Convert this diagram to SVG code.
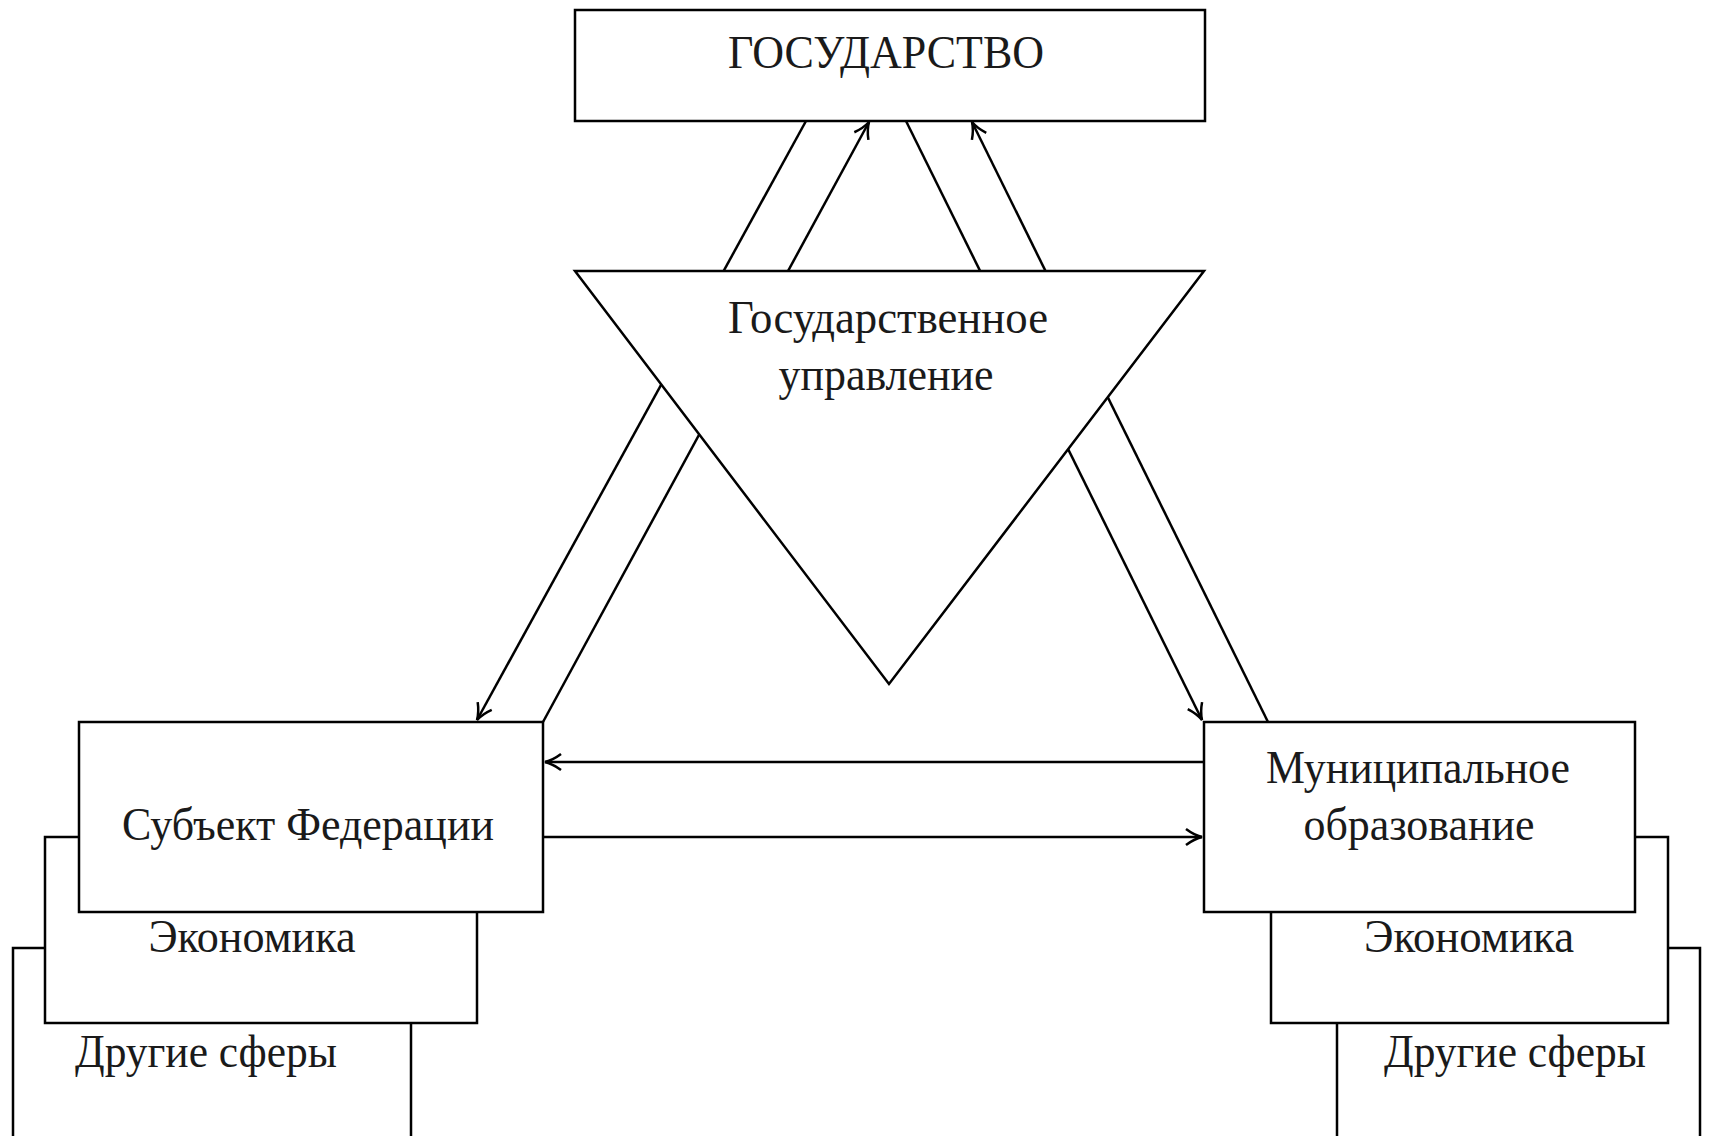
<svg xmlns="http://www.w3.org/2000/svg" width="1710" height="1136" viewBox="0 0 1710 1136">
<style>
.box{fill:#fff;stroke:#000;stroke-width:2.5}
.ln{fill:none;stroke:#000;stroke-width:2.5}
.t{font-family:"Liberation Serif","Times New Roman",serif;font-size:46px;fill:#1a1a1a;text-anchor:middle}
</style>
<defs>
<marker id="ar" markerUnits="userSpaceOnUse" markerWidth="24" markerHeight="24" viewBox="0 0 24 24" refX="22" refY="12" orient="auto">
<path d="M6,4 Q14,10 22,12 Q14,14 6,20" fill="none" stroke="#000" stroke-width="2.5"/>
</marker>
</defs>
<rect width="1710" height="1136" fill="#fff"/>
<g id="left-other"><rect class="box" x="13" y="948" width="398" height="200"/><text class="t" x="206" y="1067" textLength="262" lengthAdjust="spacingAndGlyphs">Другие сферы</text></g>
<g id="left-econ"><rect class="box" x="45" y="837" width="432" height="186"/><text class="t" x="252" y="952" textLength="207" lengthAdjust="spacingAndGlyphs">Экономика</text></g>
<g id="right-other"><rect class="box" x="1337" y="948" width="363" height="200"/><text class="t" x="1515" y="1067" textLength="262" lengthAdjust="spacingAndGlyphs">Другие сферы</text></g>
<g id="right-econ"><rect class="box" x="1271" y="837" width="397" height="186"/><text class="t" x="1469" y="952" textLength="210" lengthAdjust="spacingAndGlyphs">Экономика</text></g>
<g id="connectors">
<line class="ln" x1="806" y1="121" x2="477" y2="720" marker-end="url(#ar)"/>
<line class="ln" x1="543" y1="722" x2="869" y2="122" marker-end="url(#ar)"/>
<line class="ln" x1="906" y1="121" x2="1202" y2="720" marker-end="url(#ar)"/>
<line class="ln" x1="1268" y1="722" x2="972" y2="122" marker-end="url(#ar)"/>
<line class="ln" x1="1204" y1="762" x2="545" y2="762" marker-end="url(#ar)"/>
<line class="ln" x1="543" y1="837" x2="1202" y2="837" marker-end="url(#ar)"/>
</g>
<g id="gosudarstvo"><rect class="box" x="575" y="10" width="630" height="111"/><text class="t" x="886" y="68" textLength="316" lengthAdjust="spacingAndGlyphs">ГОСУДАРСТВО</text></g>
<g id="gos-upravlenie"><polygon class="box" points="575,271 1204,271 889,684"/><text class="t" x="888" y="333" textLength="320" lengthAdjust="spacingAndGlyphs">Государственное</text><text class="t" x="886" y="390" textLength="215" lengthAdjust="spacingAndGlyphs">управление</text></g>
<g id="subject"><rect class="box" x="79" y="722" width="464" height="190"/><text class="t" x="308" y="840" textLength="372" lengthAdjust="spacingAndGlyphs">Субъект Федерации</text></g>
<g id="municipal"><rect class="box" x="1204" y="722" width="431" height="190"/><text class="t" x="1418" y="783" textLength="304" lengthAdjust="spacingAndGlyphs">Муниципальное</text><text class="t" x="1419" y="840" textLength="231" lengthAdjust="spacingAndGlyphs">образование</text></g>
</svg>
